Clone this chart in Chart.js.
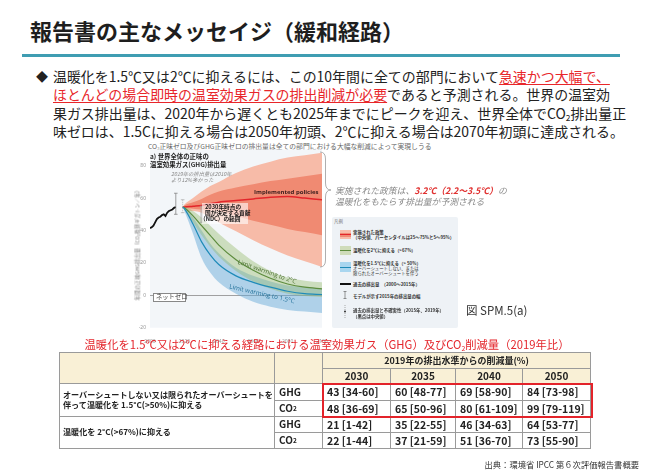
<!DOCTYPE html>
<html><head><meta charset="utf-8">
<script src="https://cdn.jsdelivr.net/npm/chart.js@4.4.1/dist/chart.umd.min.js"></script>
<style>
html,body{margin:0;padding:0;background:#fff;}
body{width:652px;height:471px;position:relative;overflow:hidden;font-family:"Noto Sans CJK JP","Noto Sans",sans-serif;color:#222;}
.a{position:absolute;white-space:nowrap;line-height:1;}
.bl{left:53px;font-size:13.95px;color:#222;}
.r{color:#e8262a;text-decoration:underline;text-decoration-color:#e8262a;text-underline-offset:2px;text-decoration-thickness:1px;}
.sub{font-size:0.6em;position:relative;top:0.3em;}
.lg{font-size:4.4px;color:#333;}
.cell{position:absolute;box-sizing:border-box;border-right:1px solid #9a9a9a;border-bottom:1px solid #9a9a9a;display:flex;align-items:center;white-space:nowrap;font-weight:bold;color:#222;line-height:1.25;}
</style></head><body>

<!-- title -->
<div class="a" style="left:30px;top:18.5px;font-size:22px;font-weight:bold;color:#1e1e1e;">報告書の主なメッセイジ（緩和経路）</div>
<div class="a" style="left:22px;top:53.5px;width:598px;height:3.5px;background:#3f9db2;"></div>

<!-- bullet text -->
<div class="a" style="left:36px;top:70.5px;font-size:12px;">◆</div>
<div class="a bl" style="top:69.6px;">温暖化を1.5℃又は2℃に抑えるには、この10年間に全ての部門において<span class="r">急速かつ大幅で、</span></div>
<div class="a bl" style="top:88.1px;"><span class="r">ほとんどの場合即時の温室効果ガスの排出削減が必要</span>であると予測される。世界の温室効</div>
<div class="a bl" style="top:106.6px;">果ガス排出量は、2020年から遅くとも2025年までにピークを迎え、世界全体でCO<span class="sub">2</span>排出量正</div>
<div class="a bl" style="top:125.1px;">味ゼロは、1.5Cに抑える場合は2050年初頭、2℃に抑える場合は2070年初頭に達成される。</div>

<!-- chart caption -->
<div class="a" style="left:148px;top:143px;font-size:6.8px;color:#666;">CO<span class="sub">2</span>正味ゼロ及びGHG正味ゼロの排出量は全ての部門における大幅な削減によって実現しうる</div>

<canvas id="c" width="210" height="205" style="position:absolute;left:125px;top:140px;"></canvas>

<!-- chart overlays -->
<div class="a" style="left:137px;top:244px;font-size:5.2px;color:#777;transform:translate(-50%,-50%) rotate(-90deg);">年間の正味GHG排出量（CO<span class="sub">2</span>換算ギガトン／年）</div>
<div class="a" style="left:150px;top:153.4px;font-size:6.4px;line-height:7.6px;font-weight:bold;color:#222;">a) 世界全体の正味の<br>温室効果ガス(GHG)排出量</div>
<div class="a" style="left:171px;top:170.6px;font-size:5.3px;line-height:6px;font-style:italic;color:#8a8a8a;">2019年の排出量は2010年<br>より12%多かった</div>
<div class="a" style="left:254px;top:188.8px;font-size:6px;font-weight:bold;color:#3b1d1d;font-family:'Open Sans','Noto Sans',sans-serif;">Implemented policies</div>
<div class="a" style="left:202px;top:203px;width:46px;height:21px;background:rgba(255,255,255,0.6);"></div>
<div class="a" style="left:200px;top:203.8px;font-size:5.7px;line-height:6.3px;font-weight:bold;color:#111;"><span style="margin-left:5px">2030年時点の</span><br><span style="margin-left:5px">国が決定する貢献</span><br>（NDC）の範囲</div>
<div class="a" style="left:266.5px;top:271.7px;font-size:6.3px;color:#4b7030;font-family:'Open Sans','Noto Sans',sans-serif;transform:translate(-50%,-50%) rotate(19deg);">Limit warming to 2°C</div>
<div class="a" style="left:261.7px;top:294px;font-size:6.3px;color:#1f6f98;font-family:'Open Sans','Noto Sans',sans-serif;transform:translate(-50%,-50%) rotate(13deg);">Limit warming to 1.5°C</div>
<div class="a" style="left:153px;top:293px;width:33px;height:8.5px;box-sizing:border-box;border:0.7px solid #888;background:#fff;"></div>
<div class="a" style="left:156px;top:294.2px;font-size:6.3px;color:#444;">ネットゼロ</div>

<svg class="a" style="left:0;top:0;" width="652" height="471">
<path d="M320,152 Q325.5,152 325.5,159 L325.5,183 Q325.5,190 331,190 Q325.5,190 325.5,197 L325.5,260 Q325.5,267 320,267" fill="none" stroke="#9a9a9a" stroke-width="0.8"/>
</svg>
<div class="a" style="left:335px;top:186px;font-size:8.8px;line-height:10.6px;font-style:italic;color:#8a8a8a;">実施された政策は、<span style="color:#e0302f;font-weight:bold;">3.2℃（2.2～3.5℃）</span>の<br>温暖化をもたらす排出量が予測される</div>

<!-- legend -->
<div class="a" style="left:332px;top:217px;width:126px;height:111px;background:#eef2f6;border-radius:2px;"></div>
<div class="a lg" style="left:334px;top:219px;color:#777;">凡例</div>
<div class="a" style="left:340px;top:230px;width:11px;height:9px;background:#f8bcaa;"></div>
<div class="a" style="left:340px;top:232.5px;width:11px;height:4px;background:#f08a74;"></div>
<div class="a" style="left:340px;top:234px;width:11px;height:1px;background:#e3262b;"></div>
<div class="a lg" style="left:353px;top:229.6px;line-height:5.7px;font-weight:bold;">実施された政策<br>（中央値、パーセンタイルは25～75%と5～95%）</div>
<div class="a" style="left:340px;top:246px;width:11px;height:9px;background:#cfdcba;"></div>
<div class="a" style="left:340px;top:250px;width:11px;height:1px;background:#5d8c3e;"></div>
<div class="a lg" style="left:353px;top:248.1px;font-weight:bold;">温暖化を2℃に抑える（>67%）</div>
<div class="a" style="left:340px;top:262px;width:11px;height:10px;background:#a9d6ef;"></div>
<div class="a" style="left:340px;top:266.5px;width:11px;height:1px;background:#1f8bb8;"></div>
<div class="a lg" style="left:353px;top:260.9px;line-height:5px;"><b>温暖化を1.5℃に抑える（> 50%）</b><br>オーバーシュートしない、または<br>限られたオーバーシュートを伴う</div>
<div class="a" style="left:340px;top:283px;width:11px;height:1.5px;background:#111;"></div>
<div class="a lg" style="left:353px;top:281.6px;font-weight:bold;">過去の排出量　（2000～2015年）</div>
<svg class="a" style="left:0;top:0;" width="652" height="471">
<path d="M343.5,291.5 H346.5 M345,291.5 V298.5 M343.5,298.5 H346.5" stroke="#555" stroke-width="0.6" fill="none"/>
<path d="M345,305 V318" stroke="#777" stroke-width="0.6" stroke-dasharray="1,1" fill="none"/>
<circle cx="345" cy="311.5" r="0.9" fill="#222"/>
</svg>
<div class="a lg" style="left:353px;top:293.6px;font-weight:bold;">モデルが示す2015年の排出量の幅</div>
<div class="a lg" style="left:353px;top:308.3px;line-height:5.3px;font-weight:bold;">過去の排出量と不確実性（2015年、2019年）<br>（黒点は中央値）</div>

<div class="a" style="left:466px;top:304.5px;font-size:11.5px;color:#333;">図 SPM.5(a)</div>

<!-- table caption -->
<div class="a" style="left:327px;top:338.7px;font-size:11.3px;color:#e4262c;transform:translateX(-50%);">温暖化を1.5℃又は2℃に抑える経路における温室効果ガス（GHG）及びCO<span class="sub">2</span>削減量（2019年比）</div>

<div id="tbl"></div>

<div class="a" style="right:13px;top:460.4px;font-size:8.3px;color:#333;">出典：環境省 IPCC 第６次評価報告書概要</div>

<script>
// ---------- chart data ----------
const histYears = [2000,2001,2002,2003,2004,2005,2006,2007,2008,2009,2010,2011,2012,2013,2014,2015];
const histVals  = [41.5,42,43,45,47,48,48.5,49.5,50,49,51,52,52.5,53,54,54.5];
const projYears = [2019,2020,2025,2030,2035,2040,2050,2060,2070,2080,2090,2100];
const ipP95 = [54.5,56,60,64,67.5,70,75.5,79.5,82.5,85,86.5,88];
const ipP75 = [54.5,55.5,57.5,59.5,62,64,66.5,68.5,70.5,72,73.5,75];
const ipMed = [54.5,54.5,55,55.5,56.5,57.5,58.5,59.5,60.5,61,60,59];
const ipP25 = [54.5,54,53.5,53,52.5,52,49,46,43.5,41,39,37];
const ipP5  = [54.5,53,52,51,48,45,39.5,34,29,24.5,21,17.5];
const c3Hi  = [54.5,55,52,48,43,38,29,21,15,11,9,8];
const c3Med = [54.5,54,49,43,37,31,22,15.5,10.5,7,5,4];
const c3Lo  = [54.5,53,45,37,30,24,15,8.5,4,1,-0.5,-1];
const c1Hi  = [54.5,54.5,48,40,32,26,17,12,8.5,6,5,4];
const c1Med = [54.5,53.5,44,33,25,19,12,8,5,2.5,1,0.5];
const c1Lo  = [54.5,52,38,23,14,8,1,-4,-7,-9,-10,-11];
const errYears = [2015,2019];
const errLo = [50,51];
const errHi = [63,59];
const ndcYear = 2030, ndcLo = 45, ndcHi = 55;
const xTicks = [2000,2020,2040,2060,2080,2100];
const yTicks = [-20,0,20,40,60,80];

// ---------- table data ----------
const tYears = ['2030','2035','2040','2050'];
const tHeader = '2019年の排出水準からの削減量(%)';
const g15Label = ['オーバーシュートしない又は限られたオーバーシュートを','伴って温暖化を 1.5°C(>50%)に抑える'];
const g2Label = ['温暖化を 2°C(>67%)に抑える'];
const gas = ['GHG','CO<sub style="font-size:0.65em;">2</sub>'];
const t15GHG = ['43 [34-60]','60 [48-77]','69 [58-90]','84 [73-98]'];
const t15CO2 = ['48 [36-69]','65 [50-96]','80 [61-109]','99 [79-119]'];
const t2GHG  = ['21 [1-42]','35 [22-55]','46 [34-63]','64 [53-77]'];
const t2CO2  = ['22 [1-44]','37 [21-59]','51 [36-70]','73 [55-90]'];

// ---------- table ----------
(function(){
  const colX=[60,275,323,391,456,523,591], rowY=[353,369,384,401,417,433,449];
  const host=document.getElementById('tbl');
  function cell(c1,c2,r1,r2,html,opt){
    opt=opt||{};
    const d=document.createElement('div');
    d.className='cell';
    d.style.left=colX[c1]+'px'; d.style.top=rowY[r1]+'px';
    d.style.width=(colX[c2]-colX[c1])+'px';
    d.style.height=(rowY[r2]-rowY[r1])+'px';
    d.style.fontSize=(opt.fs||10.5)+'px';
    if(opt.bg) d.style.background=opt.bg;
    d.style.justifyContent=opt.center?'center':'flex-start';
    d.style.paddingLeft=opt.center?'0':(opt.pl||4)+'px';
    d.innerHTML=html;
    host.appendChild(d);
  }
  const bg='#f9f0d6';
  cell(0,1,0,2,'',{bg});
  cell(1,2,0,2,'',{bg});
  cell(2,6,0,1,tHeader,{bg,center:true,fs:9});
  tYears.forEach((y,i)=>cell(2+i,3+i,1,2,y,{bg,center:true,fs:10}));
  cell(0,1,2,4,g15Label.join('<br>'),{fs:8.1,pl:3});
  cell(0,1,4,6,g2Label.join('<br>'),{fs:8.1,pl:3});
  [[2,t15GHG,0],[3,t15CO2,1],[4,t2GHG,0],[5,t2CO2,1]].forEach(([r,arr,g])=>{
    cell(1,2,r,r+1,gas[g],{fs:10,pl:4});
    arr.forEach((v,i)=>cell(2+i,3+i,r,r+1,v,{fs:10.5,pl:4}));
  });
  const l=document.createElement('div');
  l.style.cssText='position:absolute;left:59px;top:352px;width:532px;height:97px;border-left:1px solid #9a9a9a;border-top:1px solid #9a9a9a;box-sizing:border-box;pointer-events:none;';
  host.appendChild(l);
  const rb=document.createElement('div');
  rb.style.cssText='position:absolute;left:322px;top:382.5px;width:270.5px;height:35.5px;border:2px solid #e3232a;box-sizing:border-box;';
  host.appendChild(rb);
})();

// ---------- chart ----------
const pts=(xs,ys)=>xs.map((x,i)=>({x:x,y:ys[i]}));
const inv={borderColor:'rgba(0,0,0,0)',borderWidth:0,pointRadius:0,fill:false,cubicInterpolationMode:'monotone'};
const bgPlugin={id:'bg',beforeDraw(chart){const a=chart.chartArea,ctx=chart.ctx;ctx.save();ctx.fillStyle='#f3f6f9';ctx.fillRect(a.left,a.top,a.right-a.left,a.bottom-a.top);ctx.restore();}};
const errPlugin={id:'err',afterDatasetsDraw(chart){
  const ctx=chart.ctx,x=chart.scales.x,y=chart.scales.y;
  ctx.save();
  const nx=x.getPixelForValue(ndcYear),nt=y.getPixelForValue(ndcHi),nb=y.getPixelForValue(ndcLo);
  ctx.fillStyle='rgba(170,170,170,0.55)';ctx.fillRect(nx-1.3,nt,2.6,nb-nt);
  ctx.strokeStyle='#999';ctx.lineWidth=0.6;
  ctx.beginPath();ctx.moveTo(nx-1.8,nt);ctx.lineTo(nx+1.8,nt);ctx.moveTo(nx-1.8,nb);ctx.lineTo(nx+1.8,nb);ctx.stroke();
  errYears.forEach((yr,i)=>{
    const px=x.getPixelForValue(yr),t=y.getPixelForValue(errHi[i]),b=y.getPixelForValue(errLo[i]);
    ctx.strokeStyle=i===0?'#777':'#aaa';ctx.lineWidth=0.7;
    ctx.setLineDash(i===0?[]:[1.2,0.8]);
    ctx.beginPath();ctx.moveTo(px,t);ctx.lineTo(px,b);ctx.stroke();
    ctx.setLineDash([]);
    ctx.beginPath();ctx.moveTo(px-1.8,t);ctx.lineTo(px+1.8,t);ctx.moveTo(px-1.8,b);ctx.lineTo(px+1.8,b);ctx.stroke();
  });
  ctx.restore();
}};
new Chart(document.getElementById('c'),{
  type:'line',
  data:{datasets:[
    {label:'hist',data:pts(histYears,histVals),borderColor:'#111',borderWidth:1.8,pointRadius:0,fill:false,order:0},
    {label:'c1Med',data:pts(projYears,c1Med),borderColor:'#1f8bb8',borderWidth:1.2,pointRadius:0,fill:false,order:1,cubicInterpolationMode:'monotone'},
    {label:'c3Med',data:pts(projYears,c3Med),borderColor:'#5d8c3e',borderWidth:1.2,pointRadius:0,fill:false,order:2,cubicInterpolationMode:'monotone'},
    {label:'ipMed',data:pts(projYears,ipMed),borderColor:'#e3262b',borderWidth:1.5,pointRadius:0,fill:false,order:3,cubicInterpolationMode:'monotone'},
    Object.assign({},inv,{label:'c3Hi',data:pts(projYears,c3Hi),fill:'+1',backgroundColor:'rgba(150,185,110,0.42)',order:5}),
    Object.assign({},inv,{label:'c3Lo',data:pts(projYears,c3Lo),order:5.5}),
    Object.assign({},inv,{label:'c1Hi',data:pts(projYears,c1Hi),fill:'+1',backgroundColor:'rgba(100,170,215,0.48)',order:6}),
    Object.assign({},inv,{label:'c1Lo',data:pts(projYears,c1Lo),order:6.5}),
    Object.assign({},inv,{label:'ipP75',data:pts(projYears,ipP75),fill:'+1',backgroundColor:'#f08a72',order:8}),
    Object.assign({},inv,{label:'ipP25',data:pts(projYears,ipP25),order:8.5}),
    Object.assign({},inv,{label:'ipP95',data:pts(projYears,ipP95),fill:'+1',backgroundColor:'#f7bba8',order:9}),
    Object.assign({},inv,{label:'ipP5',data:pts(projYears,ipP5),order:9.5})
  ]},
  options:{
    responsive:false,animation:false,devicePixelRatio:1,
    layout:{padding:{left:0,top:9.5,right:13,bottom:0}},
    plugins:{legend:{display:false},tooltip:{enabled:false}},
    scales:{
      x:{type:'linear',min:2000,max:2100,
        afterBuildTicks:s=>{s.ticks=xTicks.map(v=>({value:v}));},
        afterFit:s=>{s.height=17.3;},
        ticks:{font:{size:5,family:'Noto Sans'},color:'#999',padding:3,maxRotation:0,callback:v=>String(v)},
        grid:{display:false},border:{display:false}},
      y:{type:'linear',min:-20,max:90,
        afterBuildTicks:s=>{s.ticks=yTicks.map(v=>({value:v}));},
        afterFit:s=>{s.width=25;},
        ticks:{font:{size:5,family:'Noto Sans'},color:'#999',padding:4},
        grid:{drawTicks:false,lineWidth:0.8,color:c=>(c.tick&&c.tick.value===0)?'#8a8a8a':'rgba(0,0,0,0)'},
        border:{display:false}}
    }
  },
  plugins:[bgPlugin,errPlugin]
});
</script>
</body></html>
